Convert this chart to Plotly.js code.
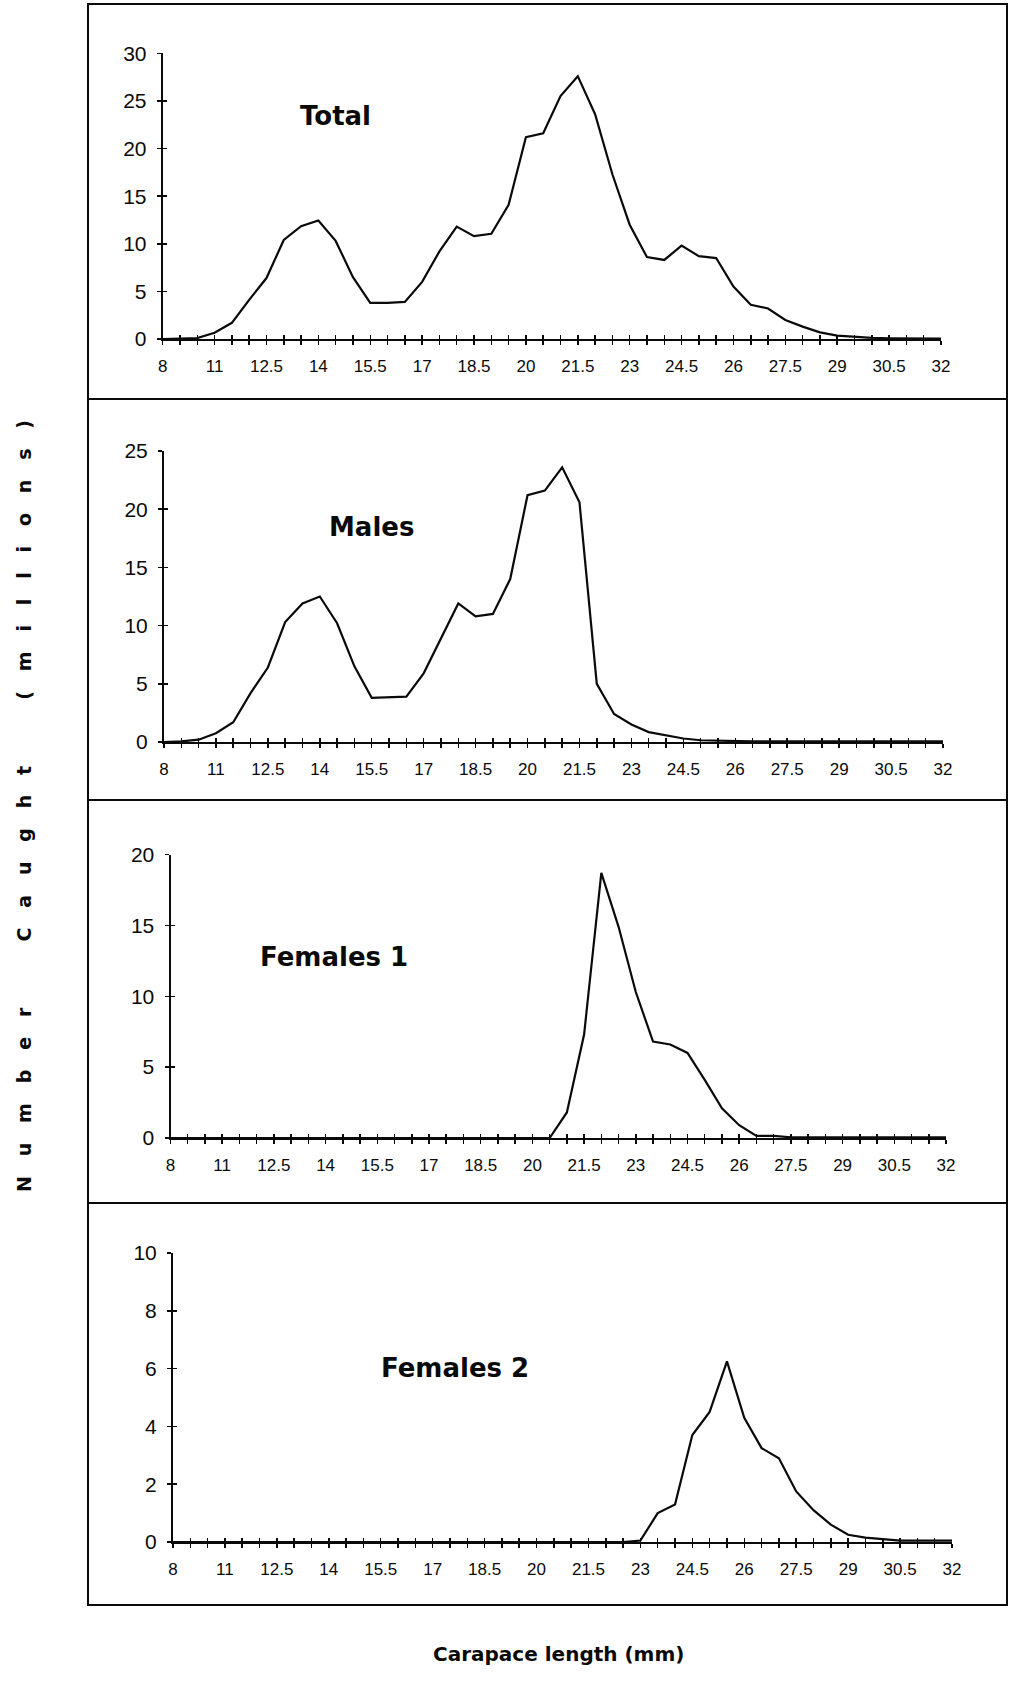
<!DOCTYPE html>
<html>
<head>
<meta charset="utf-8">
<script src="https://cdn.plot.ly/plotly-3.0.1.min.js"></script>
<style>html,body{margin:0;padding:0;background:#fff}</style>
</head>
<body>
<div id="chart" style="width:1011px;height:1682px"></div>
<script>
// Carapace length classes (mm); the first class pools the smallest animals
const lengthClasses = ['8','10','10.5','11','11.5','12','12.5','13','13.5','14','14.5','15','15.5','16','16.5','17','17.5','18','18.5','19','19.5','20','20.5','21','21.5','22','22.5','23','23.5','24','24.5','25','25.5','26','26.5','27','27.5','28','28.5','29','29.5','30','30.5','31','31.5','32'];

// Number caught (millions) per length class
const totalCaught = [0,0.02,0.1,0.65,1.7,4.1,6.4,10.4,11.85,12.45,10.3,6.5,3.8,3.8,3.9,6.0,9.2,11.8,10.8,11.05,14.1,21.2,21.6,25.5,27.6,23.6,17.3,12.0,8.6,8.3,9.8,8.7,8.5,5.5,3.6,3.2,2.0,1.3,0.7,0.35,0.2,0.12,0.08,0.05,0.05,0.05];
const malesCaught = [0,0.05,0.2,0.75,1.7,4.2,6.4,10.3,11.9,12.5,10.2,6.5,3.8,3.85,3.9,5.9,8.9,11.9,10.8,11.0,14.0,21.2,21.6,23.6,20.6,5.0,2.4,1.5,0.85,0.55,0.3,0.15,0.1,0.05,0.05,0.05,0.05,0.05,0.05,0.05,0.05,0.05,0.05,0.05,0.05,0.05];
const females1Caught = [0,0,0,0,0,0,0,0,0,0,0,0,0,0,0,0,0,0,0,0,0,0,0,1.8,7.3,18.7,14.9,10.3,6.8,6.6,6.0,4.1,2.1,0.9,0.15,0.15,0.05,0.05,0.05,0.05,0.05,0.05,0.05,0.05,0.05,0.05];
const females2Caught = [0,0,0,0,0,0,0,0,0,0,0,0,0,0,0,0,0,0,0,0,0,0,0,0,0,0,0,0.05,1.0,1.3,3.7,4.5,6.25,4.3,3.25,2.9,1.75,1.1,0.6,0.25,0.15,0.1,0.05,0.05,0.05,0.05];

const panelNames = ['Total', 'Males', 'Females 1', 'Females 2'];
const panelSeries = [totalCaught, malesCaught, females1Caught, females2Caught];
const yMaxValues = [30, 25, 20, 10];
const yTickSteps = [5, 5, 5, 2];
const xTitle = 'Carapace length (mm)';
const yTitle = 'Number Caught (millions)';

const W = 1011, H = 1682;
const px = v => v / W;
const py = v => 1 - v / H;

// Plot-area geometry of each panel in page pixels
const panels = [
  {l: 162.7, r: 941, b: 339,  t: 53.3,  lx: 335, ly: 116},
  {l: 164,   r: 943, b: 742,  t: 451,   lx: 371, ly: 527},
  {l: 170.5, r: 946, b: 1138, t: 854.5, lx: 334, ly: 957},
  {l: 173,   r: 952, b: 1542, t: 1253,  lx: 455, ly: 1368}
];

const classIndex = lengthClasses.map((_, i) => i);
const tickText = lengthClasses.map((c, i) => (i % 3 === 0 ? c : ''));

const ink = '#0a0a0a';
const tickFont = {family: 'Liberation Sans, Arial, sans-serif', size: 17, color: ink};
const yTickFont = {family: 'Liberation Sans, Arial, sans-serif', size: 21, color: ink};

const traces = [];
const layout = {
  width: W, height: H,
  margin: {l: 0, r: 0, t: 0, b: 0},
  paper_bgcolor: '#fff', plot_bgcolor: 'rgba(0,0,0,0)',
  showlegend: false,
  shapes: [], annotations: []
};

panels.forEach((p, k) => {
  const n = k + 1, m = k + 5;
  const xd = [px(p.l), px(p.r)];
  const yd = [py(p.b), py(p.t)];
  const xr = [0, lengthClasses.length - 1];
  const yr = [0, yMaxValues[k]];

  traces.push({
    type: 'scatter', mode: 'lines',
    x: classIndex, y: panelSeries[k],
    xaxis: 'x' + n, yaxis: 'y' + n,
    line: {color: ink, width: 2.2},
    hoverinfo: 'skip'
  });
  // companion axes carrying the inner half of each cross tick
  traces.push({
    type: 'scatter', mode: 'lines', x: [], y: [],
    xaxis: 'x' + m, yaxis: 'y' + m, hoverinfo: 'skip'
  });

  layout['xaxis' + n] = {
    domain: xd, anchor: 'y' + n, range: xr, type: 'linear',
    tickmode: 'array', tickvals: classIndex, ticktext: tickText,
    ticks: 'outside', ticklen: 4, tickwidth: 1.5, tickcolor: ink,
    ticklabelstandoff: 7,
    showline: true, linecolor: ink, linewidth: 2,
    showgrid: false, zeroline: false, tickfont: tickFont, fixedrange: true
  };
  layout['yaxis' + n] = {
    domain: yd, anchor: 'x' + n, range: yr, type: 'linear',
    tickmode: 'linear', tick0: 0, dtick: yTickSteps[k],
    ticks: 'outside', ticklen: 4, tickwidth: 1.5, tickcolor: ink,
    ticklabelstandoff: 6,
    showline: true, linecolor: ink, linewidth: 2,
    showgrid: false, zeroline: false, tickfont: yTickFont, fixedrange: true
  };
  layout['xaxis' + m] = {
    overlaying: 'x' + n, anchor: 'y' + m, range: xr, type: 'linear',
    tickmode: 'array', tickvals: classIndex,
    ticks: 'inside', ticklen: 4, tickwidth: 1.5, tickcolor: ink,
    showticklabels: false, showline: false, showgrid: false, zeroline: false
  };
  layout['yaxis' + m] = {
    overlaying: 'y' + n, anchor: 'x' + m, range: yr, type: 'linear',
    tickmode: 'linear', tick0: 0, dtick: yTickSteps[k],
    ticks: 'inside', ticklen: 4, tickwidth: 1.5, tickcolor: ink,
    showticklabels: false, showline: false, showgrid: false, zeroline: false
  };

  layout.annotations.push({
    xref: 'paper', yref: 'paper', x: px(p.lx), y: py(p.ly),
    xanchor: 'center', yanchor: 'middle', showarrow: false,
    text: '<b>' + panelNames[k] + '</b>',
    font: {family: 'DejaVu Sans, sans-serif', size: 26, color: ink}
  });
});

// boxed frame around the stacked panels
const frameTop = 4, frameBottom = 1605, frameLeft = 88, frameRight = 1007;
layout.shapes.push({
  type: 'rect', xref: 'paper', yref: 'paper',
  x0: px(frameLeft), x1: px(frameRight), y0: py(frameBottom), y1: py(frameTop),
  line: {color: ink, width: 2}
});
[399, 800, 1203].forEach(yy => {
  layout.shapes.push({
    type: 'line', xref: 'paper', yref: 'paper',
    x0: px(frameLeft), x1: px(frameRight), y0: py(yy), y1: py(yy),
    line: {color: ink, width: 2}
  });
});

// widely letter-spaced vertical title
function spread(text, gap, wordGap) {
  return text.split(' ').map(w => w.split('').join(gap)).join(wordGap);
}
const nb = n => '\u00a0'.repeat(n);

layout.annotations.push({
  xref: 'paper', yref: 'paper', x: px(558), y: py(1654),
  xanchor: 'center', yanchor: 'middle', showarrow: false,
  text: '<b>' + xTitle + '</b>',
  font: {family: 'DejaVu Sans, sans-serif', size: 20, color: ink}
});
layout.annotations.push({
  xref: 'paper', yref: 'paper', x: px(24), y: py(806),
  xanchor: 'center', yanchor: 'middle', showarrow: false, textangle: -90,
  text: '<b>' + spread(yTitle, nb(3), nb(10)) + '</b>',
  font: {family: 'DejaVu Sans, sans-serif', size: 19, color: ink}
});

Plotly.newPlot('chart', traces, layout, {staticPlot: true, displayModeBar: false});
</script>
</body>
</html>
